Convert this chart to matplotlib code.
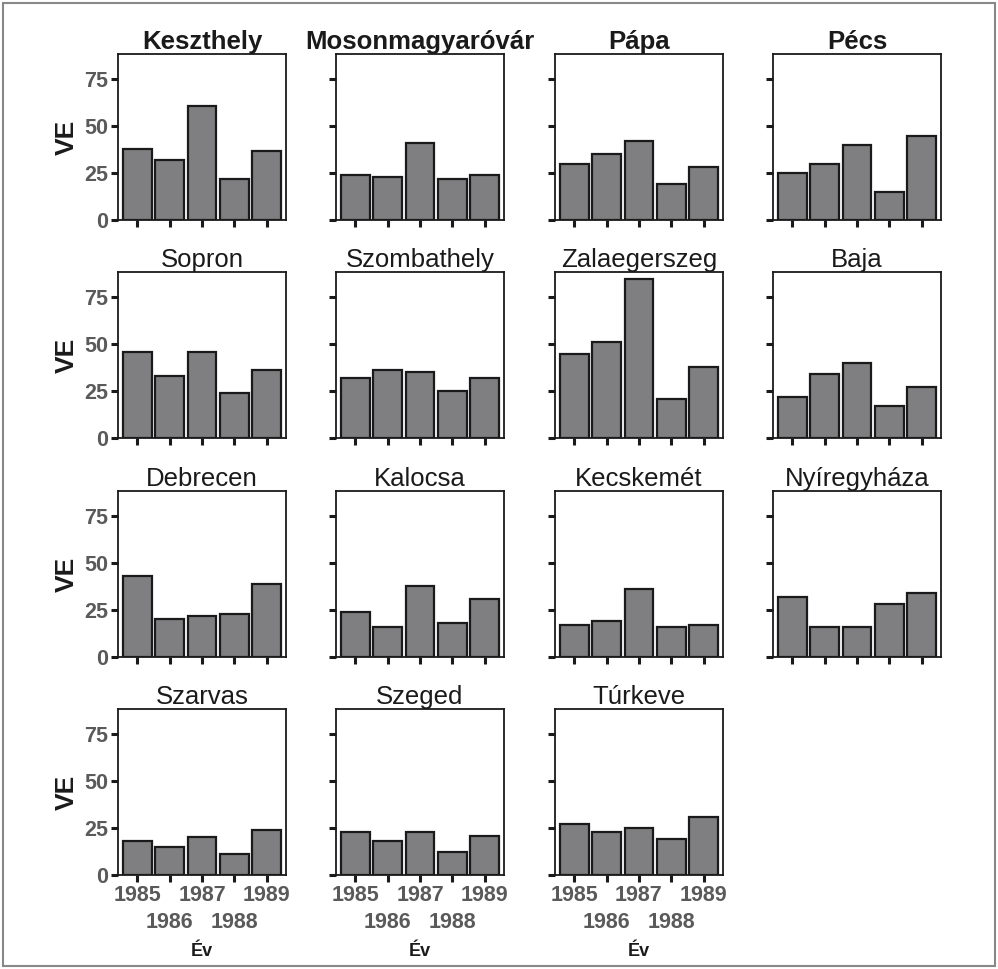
import matplotlib
matplotlib.use("Agg")
import matplotlib.pyplot as plt
from matplotlib.patches import Rectangle

# Data (VE per year, per town)
towns = ['Keszthely', 'Mosonmagyaróvár', 'Pápa', 'Pécs',
         'Sopron', 'Szombathely', 'Zalaegerszeg', 'Baja',
         'Debrecen', 'Kalocsa', 'Kecskemét', 'Nyíregyháza',
         'Szarvas', 'Szeged', 'Túrkeve']
years = ['1985', '1986', '1987', '1988', '1989']

keszthely = [38, 32, 61, 22, 37]
mosonmagyarovar = [24, 23, 41, 22, 24]
papa = [30, 35, 42, 19, 28]
pecs = [25, 30, 40, 15, 45]
sopron = [46, 33, 46, 24, 36]
szombathely = [32, 36, 35, 25, 32]
zalaegerszeg = [45, 51, 85, 21, 38]
baja = [22, 34, 40, 17, 27]
debrecen = [43, 20, 22, 23, 39]
kalocsa = [24, 16, 38, 18, 31]
kecskemet = [17, 19, 36, 16, 17]
nyiregyhaza = [32, 16, 16, 28, 34]
szarvas = [18, 15, 20, 11, 24]
szeged = [23, 18, 23, 12, 21]
turkeve = [27, 23, 25, 19, 31]

values = [keszthely, mosonmagyarovar, papa, pecs,
          sopron, szombathely, zalaegerszeg, baja,
          debrecen, kalocsa, kecskemet, nyiregyhaza,
          szarvas, szeged, turkeve]

y_ticks = [0, 25, 50, 75]

plt.rcParams['font.family'] = ['Liberation Sans', 'DejaVu Sans']

W, H = 998, 969
fig = plt.figure(figsize=(W / 100, H / 100), dpi=100)

# outer frame
fig.patches.append(Rectangle((3 / W, 3 / H), 1 - 6 / W, 1 - 6 / H,
                             transform=fig.transFigure, fill=False,
                             edgecolor='#888888', linewidth=1.5))

col_left = [118, 336, 555, 773]
row_bottom = [220, 438, 657, 875]
pw, ph = 168, 166
label_gray = '#5a5a5a'
xpos = list(range(1, len(years) + 1))
# years alternate between two label rows (dodged)
top_pos = xpos[0::2]
low_pos = xpos[1::2]

for i, (town, vals) in enumerate(zip(towns, values)):
    r, c = divmod(i, 4)
    ax = fig.add_axes([col_left[c] / W, 1 - row_bottom[r] / H, pw / W, ph / H])
    ax.bar(xpos, vals, width=0.88, color='#7f7f81', edgecolor='#1a1a1a', linewidth=1.6)
    ax.set_xlim(0.4, 5.6)
    ax.set_ylim(0, 88.5)
    ax.set_yticks(y_ticks)
    ax.set_xticks(top_pos)
    ax.set_xticks(low_pos, minor=True)
    for s in ax.spines.values():
        s.set_linewidth(1.3)
        s.set_color('#1a1a1a')
    ax.tick_params(axis='both', which='both', direction='out', length=5, width=2.2,
                   color='#1a1a1a', labelsize=15.5, labelcolor=label_gray, pad=2)
    ax.tick_params(axis='x', which='minor', pad=22)
    if c == 0:
        ax.set_yticklabels([str(t) for t in y_ticks], fontweight='bold')
        ax.set_ylabel('VE', fontsize=19, fontweight='bold', labelpad=4, color='#1a1a1a')
    else:
        ax.set_yticklabels([])
    if r == 3:
        ax.set_xticklabels(years[0::2], fontweight='bold')
        ax.set_xticklabels(years[1::2], minor=True, fontweight='bold')
        ax.set_xlabel('Év', fontsize=13, fontweight='bold', color='#1a1a1a', labelpad=7)
    else:
        ax.set_xticklabels([])
        ax.set_xticklabels([], minor=True)
    ax.set_title(town, fontsize=18.5, fontweight='bold' if r == 0 else 'normal',
                 color='#1a1a1a', pad=3)

fig.savefig('out.png', dpi=100)
